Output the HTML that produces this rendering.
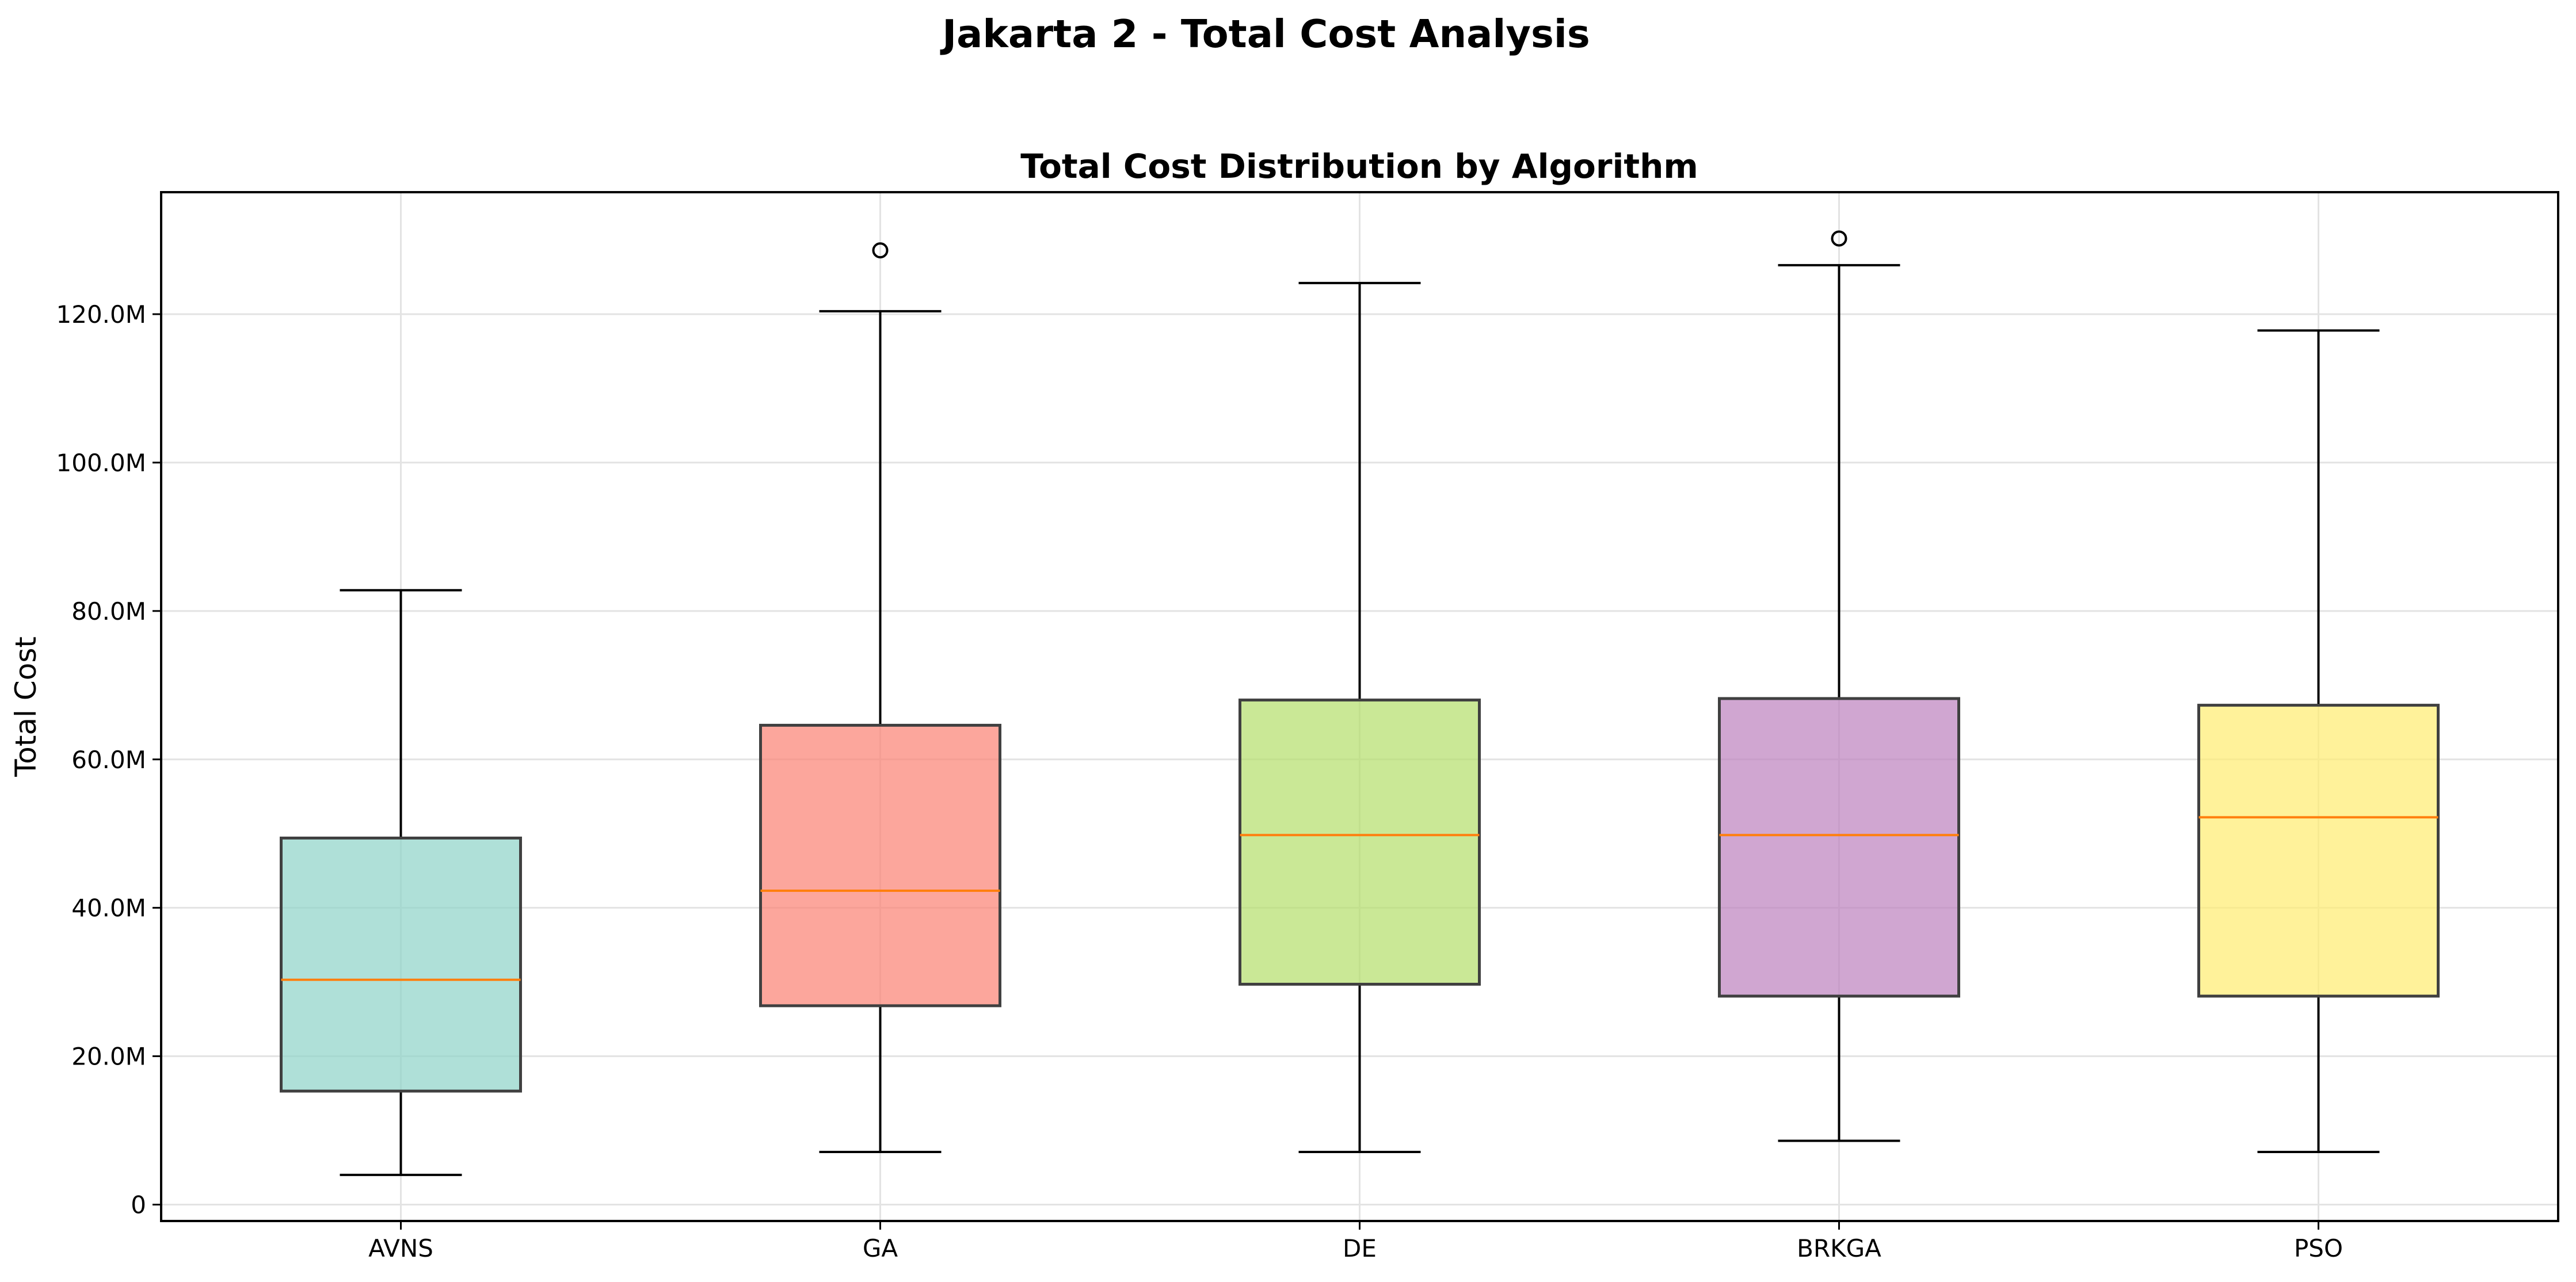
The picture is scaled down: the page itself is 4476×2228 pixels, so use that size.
<!DOCTYPE html>
<html><head><meta charset="utf-8"><style>
body{margin:0;background:#fff}
svg text{font-family:"DejaVu Sans","Liberation Sans",sans-serif}
</style></head><body>
<svg id="chart" width="4476" height="2223" viewBox="0 0 4476 2223" xmlns="http://www.w3.org/2000/svg">
<rect width="4476" height="2223" fill="#fff"/>
<text x="2200" y="82" font-size="67" font-weight="bold" text-anchor="middle">Jakarta 2 - Total Cost Analysis</text>
<text x="2362" y="309" font-size="58" font-weight="bold" text-anchor="middle">Total Cost Distribution by Algorithm</text>
<g id="grid"></g>
<g id="boxes"></g>
<g id="axes"></g>
<text transform="translate(62,1228) rotate(-90)" font-size="50" text-anchor="middle">Total Cost</text>
</svg>
<script>
const categories = ["AVNS","GA","DE","BRKGA","PSO"];
const whiskerLow = [4.0, 7.1, 7.1, 8.6, 7.1];
const q1 = [15.3, 26.8, 29.7, 28.1, 28.1];
const medians = [30.3, 42.3, 49.8, 49.8, 52.2];
const q3 = [49.4, 64.6, 68.0, 68.2, 67.3];
const whiskerHigh = [82.8, 120.4, 124.2, 126.6, 117.8];
const fliers = [[], [128.6], [], [130.2], []];
const colors = ["#8dd3c7","#fb8072","#b3de69","#bc80bd","#ffed6f"];
const yTicks = [0,20,40,60,80,100,120];
const yTickLabels = ["0","20.0M","40.0M","60.0M","80.0M","100.0M","120.0M"];

const NS="http://www.w3.org/2000/svg";
const L=280,R=4445,T=334,B=2122;
const step=(R-L)/5;
const xs=i=>L+step*(i+0.5);
const ys=v=>2093.5-v*(2093.5-546)/120;
function mk(tag,attrs,parent){const e=document.createElementNS(NS,tag);for(const k in attrs)e.setAttribute(k,attrs[k]);parent.appendChild(e);return e;}
const grid=document.getElementById('grid'),boxes=document.getElementById('boxes'),axes=document.getElementById('axes');
yTicks.forEach((t,i)=>{
  const g=mk('line',{x1:L,x2:R,y1:ys(t),y2:ys(t),stroke:'#e3e3e3','stroke-width':3},grid);
  
  
  const tk=mk('line',{x1:L-15,x2:L,y1:ys(t),y2:ys(t),stroke:'#000','stroke-width':3},axes);
  
  
  const tx=mk('text',{x:L-26,y:ys(t)+15,'font-size':42,'text-anchor':'end'},axes);
  tx.textContent=yTickLabels[i];
  
  
});
categories.forEach((c,i)=>{
  const x=xs(i);
  const g=mk('line',{x1:x,x2:x,y1:T,y2:B,stroke:'#e3e3e3','stroke-width':3},grid);
  
  
  const grp=mk('g',{},boxes);
  
  
  const hw=208, cw=106;
  const w1=mk('line',{x1:x,x2:x,y1:ys(q1[i]),y2:ys(whiskerLow[i]),stroke:'#000','stroke-width':4},grp);
  
  
  const w2=mk('line',{x1:x,x2:x,y1:ys(q3[i]),y2:ys(whiskerHigh[i]),stroke:'#000','stroke-width':4},grp);
  
  
  const c1=mk('line',{x1:x-cw,x2:x+cw,y1:ys(whiskerLow[i]),y2:ys(whiskerLow[i]),stroke:'#000','stroke-width':4},grp);
  
  
  const c2=mk('line',{x1:x-cw,x2:x+cw,y1:ys(whiskerHigh[i]),y2:ys(whiskerHigh[i]),stroke:'#000','stroke-width':4},grp);
  
  
  const r=mk('rect',{x:x-hw,y:ys(q3[i]),width:2*hw,height:ys(q1[i])-ys(q3[i]),fill:colors[i],'fill-opacity':0.7,stroke:'#404040','stroke-width':5},grp);
  
  
  const m=mk('line',{x1:x-hw,x2:x+hw,y1:ys(medians[i]),y2:ys(medians[i]),stroke:'#ff7f0e','stroke-width':4},grp);
  
  
  fliers[i].forEach(v=>{
    const f=mk('circle',{cx:x,cy:ys(v),r:12,fill:'none',stroke:'#000','stroke-width':4},grp);
    
    
  });
  const tk=mk('line',{x1:x,x2:x,y1:B,y2:B+15,stroke:'#000','stroke-width':3},axes);
  
  
  const tx=mk('text',{x:x,y:2184,'font-size':42,'text-anchor':'middle'},axes);
  tx.textContent=c;
  
  
});
const fr=mk('rect',{x:L,y:T,width:R-L,height:B-T,fill:'none',stroke:'#000','stroke-width':4},axes);


</script>
</body></html>
